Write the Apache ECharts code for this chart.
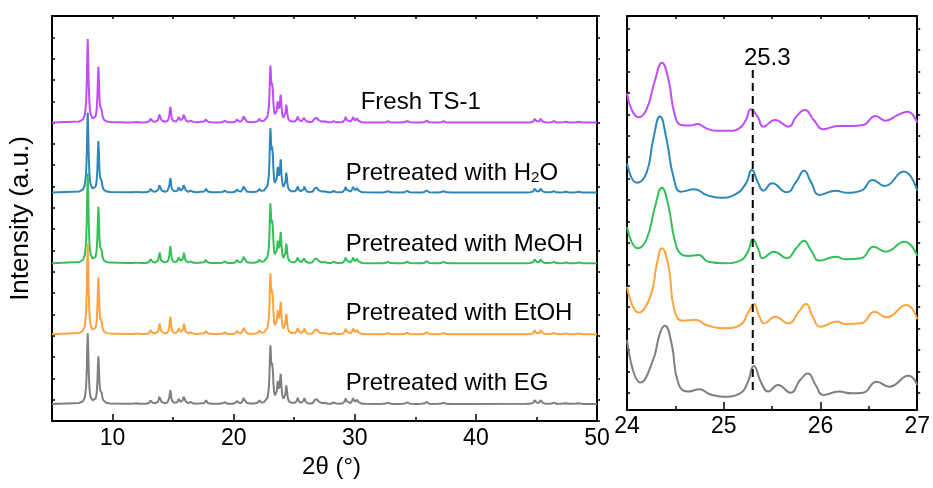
<!DOCTYPE html>
<html>
<head>
<meta charset="utf-8">
<script src="https://cdn.jsdelivr.net/npm/echarts@6/dist/echarts.min.js"></script>
<style>
  html, body { margin: 0; padding: 0; background: #fff; }
  #chart { width: 933px; height: 488px; }
</style>
</head>
<body>
<div id="chart"></div>
<script>
// -----------------------------------------------------------------------------
// XRD patterns of TS-1 samples - full range (5-50) + zoom on 24-27
// -----------------------------------------------------------------------------
const FONT = "'Liberation Sans', Arial, sans-serif";

const sampleLabels = [
  "Fresh TS-1",
  "Pretreated with H{sub|2}O",
  "Pretreated with MeOH",
  "Pretreated with EtOH",
  "Pretreated with EG"
];
const sampleColors = ["#bf4ef6", "#2d87b9", "#35c057", "#ffa340", "#7f7f7f"];

// vertical stacking offsets of each pattern (a.u.)
const stackOffsets = [14.0, 10.72, 7.4, 4.07, 0.8];

// reflection positions (2theta, deg)
const peak2theta = [7.95, 8.83, 9.07, 11.88, 13.17, 13.89, 14.77, 15.49, 15.9, 16.5,
  17.25, 17.72, 19.23, 20.3, 20.85, 22.12, 23.03, 23.2, 23.64, 23.88, 24.35, 25.29,
  25.84, 26.72, 26.9, 27.4, 28.3, 29.25, 29.88, 30.2, 32.7, 34.3, 35.9, 37.3, 44.88,
  45.38, 46.4, 47.35, 48.4];

// reflection heights above each baseline (a.u.)
const peaksFresh = [3.9, 2.55, 0.5, 0.05, 0.22, 0.47, 0.73, 0.3, 0.45, 0.1, 0.05, 0.18, 0.1,
  0.17, 0.37, 0.14, 2.4, 1.5, 0.8, 1.18, 0.8, 0.26, 0.26, 0.2, 0.22, 0.1, 0.08, 0.26,
  0.32, 0.18, 0.08, 0.1, 0.12, 0.08, 0.22, 0.22, 0.08, 0.07, 0.07];
const peaksH2O = [3.73, 2.34, 0.45, 0.05, 0.2, 0.43, 0.66, 0.28, 0.42, 0.1, 0.05, 0.17, 0.1,
  0.16, 0.35, 0.14, 2.7, 1.76, 0.98, 1.4, 0.88, 0.27, 0.26, 0.2, 0.22, 0.1, 0.08, 0.26,
  0.32, 0.18, 0.08, 0.1, 0.12, 0.08, 0.22, 0.22, 0.08, 0.07, 0.07];
const peaksMeOH = [4.19, 2.58, 0.5, 0.05, 0.24, 0.5, 0.79, 0.32, 0.48, 0.1, 0.05, 0.19, 0.1,
  0.18, 0.38, 0.14, 2.51, 1.66, 0.85, 1.32, 0.87, 0.26, 0.26, 0.2, 0.22, 0.1, 0.08, 0.26,
  0.32, 0.18, 0.08, 0.1, 0.12, 0.08, 0.22, 0.22, 0.08, 0.07, 0.07];
const peaksEtOH = [4.24, 2.58, 0.5, 0.05, 0.24, 0.5, 0.81, 0.32, 0.48, 0.1, 0.05, 0.19, 0.1,
  0.18, 0.38, 0.14, 2.55, 1.7, 0.9, 1.38, 0.91, 0.27, 0.26, 0.2, 0.22, 0.1, 0.08, 0.26,
  0.32, 0.18, 0.08, 0.1, 0.12, 0.08, 0.22, 0.22, 0.08, 0.07, 0.07];
const peaksEG = [3.3, 2.17, 0.44, 0.05, 0.2, 0.42, 0.64, 0.28, 0.42, 0.1, 0.05, 0.17, 0.1,
  0.16, 0.34, 0.14, 2.47, 1.55, 0.88, 1.27, 0.82, 0.27, 0.26, 0.2, 0.22, 0.1, 0.08, 0.26,
  0.32, 0.18, 0.08, 0.1, 0.12, 0.08, 0.22, 0.22, 0.08, 0.07, 0.07];
const peakTables = [peaksFresh, peaksH2O, peaksMeOH, peaksEtOH, peaksEG];

// zoomed 24-27 deg traces, [2theta, intensity a.u.]
const zoomFresh = [[24.0, 14.8], [24.05, 14.02], [24.12, 13.68], [24.2, 14.02], [24.29, 15.42],
  [24.36, 16.23], [24.43, 15.42], [24.49, 13.86], [24.56, 13.32], [24.65, 13.29], [24.73, 13.36],
  [24.82, 13.16], [24.92, 13.05], [25.06, 13.05], [25.16, 13.16], [25.23, 13.55], [25.28, 14.05],
  [25.35, 13.71], [25.41, 13.24], [25.53, 13.55], [25.67, 13.24], [25.75, 13.71], [25.84, 14.02],
  [25.93, 13.55], [26.03, 13.12], [26.18, 13.27], [26.32, 13.27], [26.44, 13.32], [26.57, 13.74],
  [26.67, 13.52], [26.8, 13.79], [26.9, 13.94], [27.0, 13.43]];
const zoomH2O = [[24.0, 11.53], [24.1, 10.62], [24.2, 11.06], [24.27, 12.62], [24.34, 13.71],
  [24.41, 12.62], [24.48, 10.9], [24.56, 10.2], [24.7, 10.31], [24.82, 10.05], [24.97, 9.92],
  [25.12, 10.08], [25.23, 10.59], [25.29, 11.21], [25.35, 10.67], [25.41, 10.25], [25.5, 10.59],
  [25.65, 10.17], [25.75, 10.67], [25.83, 11.18], [25.9, 10.67], [25.99, 10.05], [26.16, 10.25],
  [26.26, 10.15], [26.42, 10.25], [26.54, 10.75], [26.66, 10.47], [26.86, 11.14], [27.0, 10.25]];
const zoomMeOH = [[24.0, 8.55], [24.11, 7.56], [24.2, 7.95], [24.29, 9.5], [24.36, 10.39],
  [24.43, 9.5], [24.49, 8.0], [24.56, 7.28], [24.63, 7.2], [24.74, 7.24], [24.84, 6.93],
  [25.01, 6.86], [25.17, 6.98], [25.25, 7.4], [25.3, 7.98], [25.36, 7.48], [25.4, 7.09],
  [25.52, 7.4], [25.65, 7.09], [25.75, 7.56], [25.83, 7.91], [25.9, 7.48], [25.99, 6.98],
  [26.16, 7.16], [26.26, 7.04], [26.42, 7.09], [26.55, 7.63], [26.67, 7.4], [26.87, 7.86],
  [27.0, 7.2]];
const zoomEtOH = [[24.0, 5.76], [24.12, 4.55], [24.24, 5.29], [24.31, 6.86], [24.36, 7.56],
  [24.43, 6.7], [24.49, 4.67], [24.58, 4.17], [24.72, 4.21], [24.82, 3.97], [25.0, 3.82],
  [25.17, 3.97], [25.25, 4.52], [25.31, 4.95], [25.37, 4.36], [25.42, 4.05], [25.53, 4.36],
  [25.67, 4.05], [25.77, 4.55], [25.85, 4.95], [25.92, 4.36], [26.0, 3.89], [26.17, 4.13],
  [26.26, 4.02], [26.42, 4.05], [26.56, 4.59], [26.68, 4.33], [26.89, 4.91], [27.0, 4.24]];
const zoomEG = [[24.0, 3.27], [24.14, 1.28], [24.27, 2.34], [24.34, 3.58], [24.39, 3.94],
  [24.46, 3.12], [24.53, 1.25], [24.63, 0.86], [24.75, 0.97], [24.85, 0.75], [25.0, 0.62],
  [25.17, 0.78], [25.25, 1.32], [25.31, 2.06], [25.39, 1.25], [25.46, 0.86], [25.56, 1.17],
  [25.69, 0.81], [25.79, 1.4], [25.87, 1.71], [25.95, 1.17], [26.03, 0.7], [26.19, 0.86],
  [26.32, 0.78], [26.44, 0.81], [26.58, 1.32], [26.71, 1.09], [26.91, 1.6], [27.0, 1.17]];
const zoomTraces = [zoomFresh, zoomH2O, zoomMeOH, zoomEtOH, zoomEG];

// axis ticks
const mainMajorTicks = [10, 20, 30, 40, 50];
const mainMinorTicks = [15, 25, 35, 45];
const zoomYTicks = [0.81, 1.81, 2.81, 3.81, 4.81, 5.81, 6.81, 7.81, 8.81, 9.81, 10.81,
  11.81, 12.81, 13.81, 14.81, 15.81, 16.81, 17.81];

// reference line at 25.3 deg
const refLine2theta = 25.3;
const refLineSpan = [0.93, 15.89];
const refLabelAnchor = [25.45, 16.45];

// text anchors for sample names (2theta, a.u.)
const labelAnchors = [[30.49, 14.95], [29.25, 11.62], [29.25, 8.3], [29.25, 5.04], [29.25, 1.75]];

// Lorentzian profile around each tabulated reflection
const PEAK_HWHM = 0.075;
const PROFILE_STEPS = [-0.7, -0.4, -0.24, -0.14, -0.08, -0.04, 0, 0.04, 0.08, 0.14, 0.24, 0.4, 0.7];

function buildPattern(heights, offset) {
  const xs = new Set([5, 50]);
  peak2theta.forEach((p) => PROFILE_STEPS.forEach((s) => {
    const x = +(p + s).toFixed(3);
    if (x > 5 && x < 50) xs.add(x);
  }));
  return [...xs].sort((a, b) => a - b).map((x) => {
    let y = offset;
    peak2theta.forEach((p, i) => {
      const d = (x - p) / PEAK_HWHM;
      y += heights[i] / (1 + d * d);
    });
    return [x, +y.toFixed(3)];
  });
}

const axisLine = { show: true, onZero: false, lineStyle: { color: "#000", width: 2 } };
const noLine = { show: false, onZero: false };
const tickStyle = { color: "#000", width: 1.5 };
const tickLabel = { color: "#000", fontSize: 23, fontFamily: FONT, margin: 6 };

const chart = echarts.init(document.getElementById("chart"), null, { renderer: "canvas" });

const option = {
  animation: false,
  backgroundColor: "#fff",
  textStyle: { fontFamily: FONT },
  grid: [
    { left: 52, top: 16, width: 545, height: 405 },
    { left: 627, top: 16, width: 293, height: 394 }
  ],
  xAxis: [
    {
      gridIndex: 0, type: "value", position: "bottom", min: 5, max: 50,
      axisLine, splitLine: { show: false },
      axisTick: { show: true, inside: true, length: 7, customValues: mainMajorTicks, lineStyle: tickStyle },
      axisLabel: { ...tickLabel, customValues: mainMajorTicks },
      name: "2\u03b8 (\u00b0)", nameLocation: "middle", nameGap: 33,
      nameTextStyle: { color: "#000", fontSize: 24, fontFamily: FONT, padding: [0, 0, 0, 14] }
    },
    {
      gridIndex: 0, type: "value", position: "bottom", min: 5, max: 50,
      axisLine: noLine, splitLine: { show: false }, axisLabel: { show: false },
      axisTick: { show: true, inside: true, length: 4, customValues: mainMinorTicks, lineStyle: tickStyle }
    },
    {
      gridIndex: 0, type: "value", position: "top", min: 5, max: 50, interval: 5,
      axisLine, splitLine: { show: false }, axisLabel: { show: false },
      axisTick: { show: true, inside: true, length: 3, lineStyle: tickStyle }
    },
    {
      gridIndex: 1, type: "value", position: "bottom", min: 24, max: 27, interval: 1,
      axisLine, splitLine: { show: false },
      axisTick: { show: true, inside: true, length: 8, lineStyle: tickStyle },
      minorTick: { show: true, splitNumber: 2, length: 4, lineStyle: tickStyle },
      minorSplitLine: { show: false },
      axisLabel: { ...tickLabel, margin: 5 }
    },
    {
      gridIndex: 1, type: "value", position: "top", min: 24, max: 27, interval: 0.5,
      axisLine, splitLine: { show: false }, axisLabel: { show: false },
      axisTick: { show: true, inside: true, length: 3, lineStyle: tickStyle }
    }
  ],
  yAxis: [
    {
      gridIndex: 0, type: "value", position: "left", min: 0, max: 19, interval: 1,
      axisLine, splitLine: { show: false }, axisLabel: { show: false },
      axisTick: { show: true, inside: true, length: 3, lineStyle: tickStyle },
      name: "Intensity (a.u.)", nameLocation: "middle", nameGap: 18, nameRotate: 90,
      nameTextStyle: { color: "#000", fontSize: 26, fontFamily: FONT }
    },
    {
      gridIndex: 0, type: "value", position: "right", min: 0, max: 19, interval: 1,
      axisLine, splitLine: { show: false }, axisLabel: { show: false },
      axisTick: { show: true, inside: false, length: 3, lineStyle: tickStyle }
    },
    {
      gridIndex: 1, type: "value", position: "left", min: 0, max: 18.41,
      axisLine, splitLine: { show: false }, axisLabel: { show: false },
      axisTick: { show: true, inside: true, length: 3, customValues: zoomYTicks, lineStyle: tickStyle }
    },
    {
      gridIndex: 1, type: "value", position: "right", min: 0, max: 18.41,
      axisLine, splitLine: { show: false }, axisLabel: { show: false },
      axisTick: { show: true, inside: false, length: 3, customValues: zoomYTicks, lineStyle: tickStyle }
    }
  ],
  series: [
    ...peakTables.map((heights, i) => ({
      type: "line", xAxisIndex: 0, yAxisIndex: 0,
      data: buildPattern(heights, stackOffsets[i]),
      symbol: "none", smooth: false, z: 2 + i,
      lineStyle: { color: sampleColors[i], width: 2 }
    })),
    ...zoomTraces.map((trace, i) => ({
      type: "line", xAxisIndex: 3, yAxisIndex: 2,
      data: trace,
      symbol: "none", smooth: 0.5, z: 2 + i,
      lineStyle: { color: sampleColors[i], width: 2 }
    })),
    {
      type: "line", xAxisIndex: 3, yAxisIndex: 2, z: 10,
      data: [[refLine2theta, refLineSpan[0]], [refLine2theta, refLineSpan[1]]],
      symbol: "none",
      lineStyle: { color: "#000", width: 2, type: [8, 5] }
    }
  ]
};

chart.setOption(option);

// Annotations anchored to data coordinates
const toPx = (xi, yi, v) => chart.convertToPixel({ xAxisIndex: xi, yAxisIndex: yi }, v);
const graphics = sampleLabels.map((txt, i) => {
  const [x, y] = toPx(0, 0, labelAnchors[i]);
  return {
    type: "text", x, y, z: 20,
    style: {
      text: txt, fill: "#000", fontSize: 24, fontFamily: FONT,
      align: "left", verticalAlign: "middle",
      rich: { sub: { fontSize: 15, fontFamily: FONT, fill: "#000", verticalAlign: "bottom" } }
    }
  };
});
const [rx, ry] = toPx(3, 2, refLabelAnchor);
graphics.push({
  type: "text", x: rx, y: ry, z: 20,
  style: { text: "25.3", fill: "#000", fontSize: 24, fontFamily: FONT, align: "center", verticalAlign: "middle" }
});
chart.setOption({ graphic: graphics });
</script>
</body>
</html>
